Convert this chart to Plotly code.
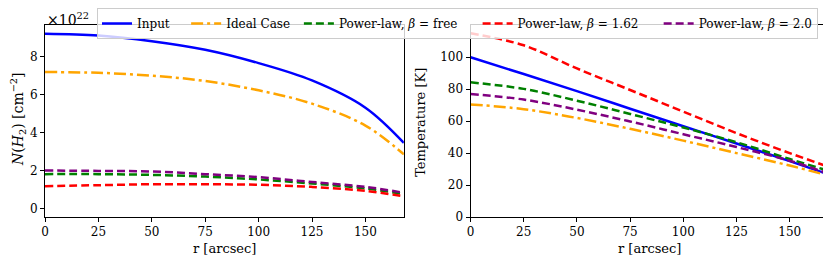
import plotly.graph_objects as go

# ---------------- data ----------------
r = [0, 25, 50, 75, 100, 125, 150, 168]

nh2_input = [9.19, 9.10, 8.80, 8.35, 7.65, 6.74, 5.31, 3.46]
nh2_ideal = [7.18, 7.14, 6.99, 6.71, 6.22, 5.52, 4.37, 2.86]
nh2_free = [1.82, 1.82, 1.78, 1.69, 1.54, 1.33, 1.07, 0.77]
nh2_b162 = [1.19, 1.24, 1.29, 1.29, 1.26, 1.15, 0.94, 0.66]
nh2_b20 = [2.01, 1.99, 1.96, 1.82, 1.66, 1.41, 1.15, 0.84]

t_input = [100.0, 89.5, 78.8, 67.8, 56.8, 46.0, 35.0, 26.8]
t_ideal = [70.5, 67.5, 62.0, 55.2, 47.8, 40.0, 32.2, 26.0]
t_free = [84.3, 80.2, 72.8, 64.5, 56.0, 46.8, 36.3, 29.0]
t_b162 = [115.0, 107.5, 93.0, 79.5, 66.0, 52.5, 40.0, 31.5]
t_b20 = [77.0, 73.5, 67.2, 59.8, 51.8, 43.8, 35.2, 27.3]

names = ["Input", "Ideal Case", "Power-law, <i>β</i> = free",
         "Power-law, <i>β</i> = 1.62", "Power-law, <i>β</i> = 2.0"]
x_ticks = [0, 25, 50, 75, 100, 125, 150]
nh2_ticks = [0, 2, 4, 6, 8]
t_ticks = [0, 20, 40, 60, 80, 100]

# ---------------- style ----------------
colors = ["blue", "orange", "green", "red", "purple"]
dashes = ["solid", "12px,4px,3px,4px", "8px,4px", "8px,4px", "8px,4px"]
legend_pad = [3, 1, 4, 4, 0]  # trailing non-breaking spaces for legend spacing
FONT = "DejaVu Serif"
OFF = 8  # page body margin
W, H = 831 - OFF, 257 - OFF
ML = 45 - OFF
MT = 25 - OFF
MR = W - (828.3 - OFF)
MB = H - (217 - OFF)
PW = W - ML - MR
PH = H - MT - MB


def px_x(p):
    return (p - OFF - ML) / PW


def px_y(p):
    return (H - MB - (p - OFF)) / PH


fig = go.Figure()
left_sets = [nh2_input, nh2_ideal, nh2_free, nh2_b162, nh2_b20]
right_sets = [t_input, t_ideal, t_free, t_b162, t_b20]
for i in range(5):
    fig.add_trace(go.Scatter(x=r, y=left_sets[i], mode="lines",
                             name=names[i] + "&nbsp;" * legend_pad[i],
                             line=dict(color=colors[i], width=2.5, dash=dashes[i], shape="spline"),
                             xaxis="x", yaxis="y", legendgroup=str(i)))
for i in range(5):
    fig.add_trace(go.Scatter(x=r, y=right_sets[i], mode="lines", name=names[i],
                             line=dict(color=colors[i], width=2.5, dash=dashes[i], shape="spline"),
                             xaxis="x2", yaxis="y2", legendgroup=str(i), showlegend=False))

ax_common = dict(showline=True, linecolor="black", linewidth=1, mirror=True,
                 ticks="outside", ticklen=4, tickcolor="black", showgrid=False,
                 zeroline=False, tickfont=dict(family=FONT, size=12, color="black"))

d1 = px_x(404)
d2 = px_x(470.7)
fig.update_layout(
    width=W, height=H,
    margin=dict(l=ML, r=MR, t=MT, b=MB, autoexpand=False),
    paper_bgcolor="white", plot_bgcolor="white",
    font=dict(family=FONT, size=12, color="black"),
    xaxis=dict(domain=[0, d1], range=[0, 168], tickvals=x_ticks, anchor="y", **ax_common),
    yaxis=dict(domain=[0, 1], range=[-0.43, 9.65], tickvals=nh2_ticks, anchor="x", **ax_common),
    xaxis2=dict(domain=[d2, 1], range=[0, 168], tickvals=x_ticks, anchor="y2", **ax_common),
    yaxis2=dict(domain=[0, 1], range=[0, 120.2], tickvals=t_ticks, anchor="x2", **ax_common),
    showlegend=True,
    legend=dict(orientation="h", x=px_x(97), xanchor="left",
                y=px_y(OFF), yanchor="top",
                bgcolor="rgba(255,255,255,0.8)", bordercolor="#cccccc", borderwidth=1,
                font=dict(family=FONT, size=12, color="black"),
                tracegroupgap=0, itemwidth=30),
)

ann = [
    dict(text="×10<sup>22</sup>", x=px_x(45), y=px_y(8), xanchor="left", yanchor="top",
         font=dict(size=14)),
    dict(text="<i>N</i>(<i>H</i><sub>2</sub>) [cm<sup>−2</sup>]", x=px_x(18), y=px_y(119),
         textangle=-90, xanchor="center", yanchor="middle", font=dict(size=14)),
    dict(text="Temperature [K]", x=px_x(421), y=px_y(122),
         textangle=-90, xanchor="center", yanchor="middle", font=dict(size=13)),
    dict(text="r [arcsec]", x=px_x(224.5), y=px_y(248), xanchor="center", yanchor="middle",
         font=dict(size=13)),
    dict(text="r [arcsec]", x=px_x(649.5), y=px_y(248), xanchor="center", yanchor="middle",
         font=dict(size=13)),
]
for a in ann:
    a.update(xref="paper", yref="paper", showarrow=False)
    fig.add_annotation(**a)

fig.write_html("out.html")
